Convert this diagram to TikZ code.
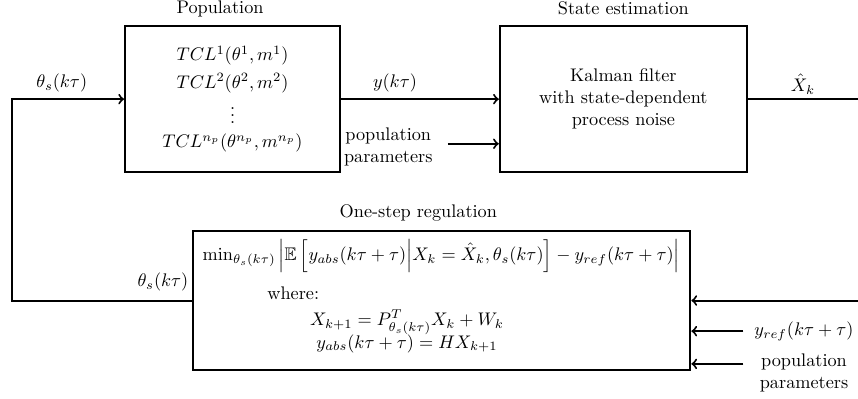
\documentclass[tikz,border=0pt]{standalone}
\usepackage{amsmath}
\usepackage{amssymb}
\usepackage{tikz}
\usetikzlibrary{positioning}

\tikzset{block/.style={rectangle,draw,line width=1.1pt},
         sig/.style={line width=1.1pt}}

\begin{document}
\begin{tikzpicture}
\useasboundingbox (0,0) rectangle (16.53,-7.67);
% blocks
\node [block,minimum width=4.14cm,minimum height=2.81cm,align=center] (pop) at (4.48,-1.91)
  {$TCL^1(\theta^1,m^1)$\\[3pt] $TCL^2(\theta^2,m^2)$\\[1pt] $\vdots$\\[1pt] $TCL^{n_p}(\theta^{n_p},m^{n_p})$};
\node [block,minimum width=4.76cm,minimum height=2.81cm,align=center] (kf) at (12.01,-1.91)
  {Kalman filter\\ with state-dependent\\ process noise};
\node [block,minimum width=9.58cm,minimum height=2.68cm] (reg) at (8.51,-5.79) {};
\node (cost) at (8.50,-4.93) {$\min_{\theta_s(k\tau)} \left|\mathbb{E}\left[y_{abs}(k\tau+\tau)\middle|X_k=\hat{X}_k,\theta_s(k\tau)\right]-y_{ref}(k\tau+\tau)\right|$};
\node (where) at (5.65,-5.65) {where:};
\node (eqx) at (7.84,-6.21) {$X_{k+1}=P^T_{\theta_s(k\tau)}X_k+W_k$};
\node (eqy) at (7.84,-6.62) {$y_{abs}(k\tau+\tau)=HX_{k+1}$};
% titles
\node (tpop) at (4.24,-0.17) {Population};
\node (tkf) at (12.01,-0.15) {State estimation};
\node (treg) at (8.06,-4.10) {One-step regulation};
% labels
\node (th1) at (1.19,-1.60) {$\theta_s(k\tau)$};
\node (yk) at (7.61,-1.60) {$y(k\tau)$};
\node (xh) at (15.47,-1.62) {$\hat{X}_k$};
\node (th2) at (3.14,-5.43) {$\theta_s(k\tau)$};
\node [align=center] (pp1) at (7.48,-2.83) {population\\ parameters};
\node (yref) at (15.49,-6.38) {$y_{ref}(k\tau+\tau)$};
\node [align=center] (pp2) at (15.49,-7.19) {population\\ parameters};
% free ends
\coordinate (fb) at (0.23,0);
\coordinate (re) at (16.53,0);
\coordinate (ppa) at (8.63,-2.77);
\coordinate (yra) at (14.32,-6.38);
\coordinate (ppb) at (14.32,-7.01);
% connectors
\draw [sig,->] (reg.west) -- (reg.west -| fb) |- (pop.west);
\draw [sig,->] (pop.east) -- (kf.west);
\draw [sig,->] (ppa) -- (ppa -| kf.west);
\draw [sig] (kf.east) -- (kf.east -| re);
\draw [sig,->] (reg.east -| re) -- (reg.east);
\draw [sig,->] (yra) -- (yra -| reg.east);
\draw [sig,->] (ppb) -- (ppb -| reg.east);
\end{tikzpicture}
\end{document}
